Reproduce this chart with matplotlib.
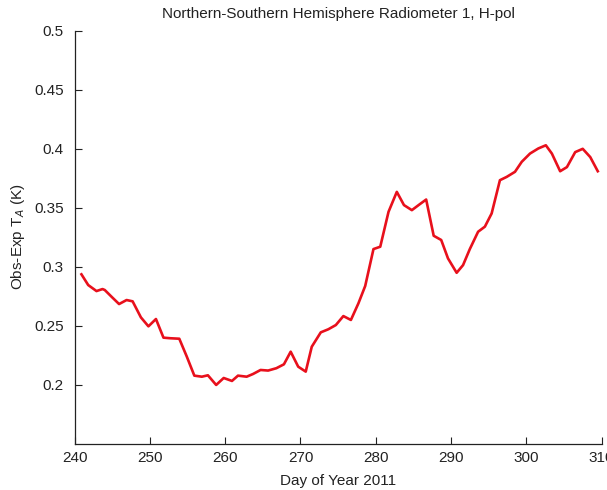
import matplotlib
matplotlib.use("Agg")
import matplotlib.pyplot as plt

plt.rcParams["font.family"] = ["Liberation Sans", "DejaVu Sans"]

days = [240.9, 241.8, 242.9, 243.7, 244.0, 244.9, 245.9, 246.9, 247.7, 248.8,
        249.8, 250.8, 251.8, 252.7, 253.9, 254.9, 255.9, 256.9, 257.7, 258.8,
        259.8, 260.9, 261.7, 262.85, 263.7, 264.7, 265.7, 266.8, 267.8, 268.7,
        269.7, 270.7, 271.5, 272.7, 273.7, 274.7, 275.7, 276.7, 277.7, 278.6,
        279.7, 280.6, 281.7, 282.8, 283.75, 284.8, 285.8, 286.7, 287.7, 288.7,
        289.6, 290.75, 291.6, 292.5, 293.6, 294.5, 295.4, 296.5, 297.4, 298.5,
        299.4, 300.5, 301.6, 302.6, 303.4, 304.5, 305.4, 306.5, 307.5, 308.5,
        309.5]
tb_diff = [0.2936, 0.2845, 0.2794, 0.2811, 0.2803, 0.2746, 0.2684, 0.2718, 0.2707, 0.2571,
           0.2495, 0.2557, 0.2399, 0.2394, 0.2390, 0.2238, 0.2077, 0.2068, 0.2080, 0.1998,
           0.2057, 0.2032, 0.2077, 0.2068, 0.2091, 0.2125, 0.2120, 0.2140, 0.2173, 0.2280,
           0.2153, 0.2111, 0.2322, 0.2444, 0.2470, 0.2506, 0.2582, 0.2549, 0.2690, 0.2837,
           0.3150, 0.3170, 0.3466, 0.3635, 0.3523, 0.3480, 0.3528, 0.3570, 0.3263, 0.3227,
           0.3071, 0.2949, 0.3014, 0.3150, 0.3297, 0.3340, 0.3452, 0.3734, 0.3762, 0.3805,
           0.3890, 0.3960, 0.4003, 0.4030, 0.3960, 0.3810, 0.3845, 0.3972, 0.4000, 0.3930,
           0.3810]

x_ticks = [240, 250, 260, 270, 280, 290, 300, 310]
y_ticks = [0.2, 0.25, 0.3, 0.35, 0.4, 0.45, 0.5]
y_tick_labels = ["0.2", "0.25", "0.3", "0.35", "0.4", "0.45", "0.5"]

fig = plt.figure(figsize=(6.07, 4.9), dpi=100)
fig.patch.set_facecolor("white")
ax = fig.add_axes([0.123, 0.0945, 0.868, 0.8425])

ax.plot(days, tb_diff, color="#e8101c", linewidth=1.9, solid_joinstyle="round")

ax.set_xlim(240, 310)
ax.set_ylim(0.15, 0.5)
ax.set_xticks(x_ticks)
ax.set_yticks(y_ticks)
ax.set_yticklabels(y_tick_labels)
ax.tick_params(direction="in", length=5, width=0.8, labelsize=11, colors="#222222")
ax.tick_params(axis="y", pad=8)
ax.tick_params(axis="x", pad=5)
for side in ("top", "right"):
    ax.spines[side].set_visible(False)
for side in ("left", "bottom"):
    ax.spines[side].set_color("#222222")
    ax.spines[side].set_linewidth(0.9)

ax.set_xlabel("Day of Year 2011", fontsize=11, color="#222222", labelpad=7)
ax.set_ylabel("Obs-Exp T$_A$ (K)", fontsize=11, color="#222222", labelpad=5)
ax.set_title("Northern-Southern Hemisphere Radiometer 1, H-pol",
             fontsize=11, color="#222222", pad=9)

fig.savefig("out.png", dpi=100, facecolor="white")
